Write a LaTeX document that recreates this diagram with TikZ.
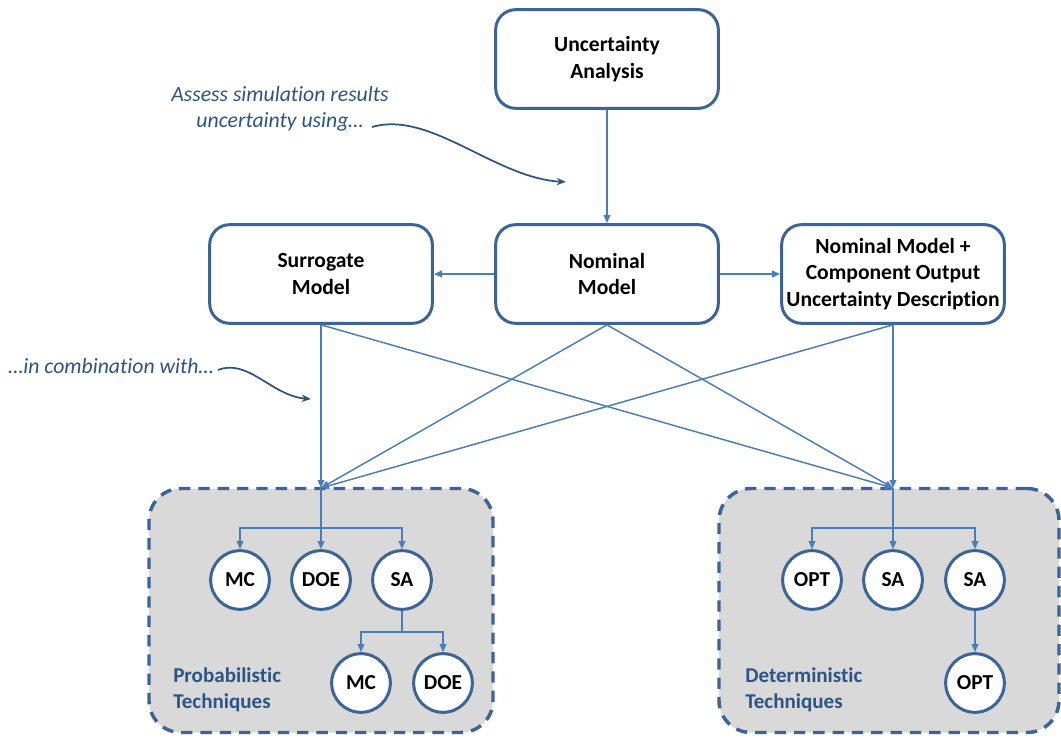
\documentclass[tikz,border=0pt]{standalone}
\usepackage{fontspec}
\setmainfont{Carlito}[Ligatures=NoCommon]
\usetikzlibrary{arrows.meta}
\definecolor{bordc}{HTML}{3C6496}
\definecolor{linec}{HTML}{4A7EBB}
\definecolor{grayf}{HTML}{D9D9D9}
\definecolor{textb}{HTML}{2C5585}
\tikzset{
  mbox/.style={draw=bordc, line width=2.25pt, rounded corners=15pt, fill=white,
    minimum width=167pt, minimum height=74pt, align=center, inner sep=2pt,
    font=\bfseries\fontsize{16.2}{19.8}\selectfont},
  tech/.style={circle, draw=bordc, line width=2.25pt, fill=white,
    minimum size=44pt, inner sep=0pt, font=\bfseries\fontsize{16}{18}\selectfont},
  conn/.style={draw=linec, line width=1.1pt, -{Triangle[length=6pt,width=5pt]}},
  plain/.style={draw=linec, line width=1.1pt},
  dashbox/.style={draw=bordc, fill=grayf, line width=2.6pt, rounded corners=24pt,
    dash pattern=on 8.5pt off 6pt, inner sep=0pt},
  lab/.style={text=textb, align=left, inner sep=0pt, anchor=west,
    font=\bfseries\fontsize{15.8}{19.5}\selectfont},
  ann/.style={text=textb, align=center, inner sep=0pt,
    font=\itshape\fontsize{16.3}{19.5}\selectfont},
  annc/.style={draw=textb, line width=1.3pt, -{Stealth[length=7pt,width=5.5pt]}}
}
\begin{document}
\begin{tikzpicture}[x=0.75pt,y=-0.75pt]
\useasboundingbox (0,0) rectangle (1061,738);
% containers
\node[dashbox, minimum width=258pt, minimum height=183pt] (pbox) at (321,610.5) {};
\node[dashbox, minimum width=255pt, minimum height=183pt] (dbox) at (889,610.5) {};
% main boxes
\node[mbox] (ua) at (607,59) {Uncertainty\\Analysis};
\node[mbox] (nm) at (607,274) {Nominal\\Model};
\node[mbox] (sm) at (321,274) {Surrogate\\Model};
\node[mbox] (nc) at (893,274) {Nominal Model +\\Component Output\\Uncertainty Description};
\coordinate (pin) at (321,488);
\coordinate (din) at (893,488);
\draw[conn] (ua.south) -- (nm.north);
\draw[conn] (nm.west) -- (sm.east);
\draw[conn] (nm.east) -- (nc.west);
\draw[conn] (sm.south) -- (pin);
\draw[conn] (sm.south) -- (din);
\draw[conn] (nm.south) -- (pin);
\draw[conn] (nm.south) -- (din);
\draw[conn] (nc.south) -- (pin);
\draw[conn] (nc.south) -- (din);
% probabilistic
\node[tech] (pmc) at (240,580) {MC};
\node[tech] (pdoe) at (321,580) {DOE};
\node[tech] (psa) at (402,580) {SA};
\node[tech] (pmc2) at (361,683) {MC};
\node[tech] (pdoe2) at (443,683) {DOE};
\coordinate (pj) at (321,528);
\coordinate (sj) at (402,632);
\draw[conn] (pin) -- (pdoe.north);
\draw[conn] (pj) -| (pmc.north);
\draw[conn] (pj) -| (psa.north);
\draw[plain] (psa.south) -- (sj);
\draw[conn] (sj) -| (pmc2.north);
\draw[conn] (sj) -| (pdoe2.north);
\node[lab] (plab) at (173,690) {Probabilistic\\Techniques};
% deterministic
\node[tech] (dopt) at (812,580) {OPT};
\node[tech] (dsa) at (893,580) {SA};
\node[tech] (dsa2) at (975,580) {SA};
\node[tech] (dopt2) at (975,683) {OPT};
\coordinate (dj) at (893,528);
\draw[conn] (din) -- (dsa.north);
\draw[conn] (dj) -| (dopt.north);
\draw[conn] (dj) -| (dsa2.north);
\draw[conn] (dsa2.south) -- (dopt2.north);
\node[lab] (dlab) at (745,690) {Deterministic\\Techniques};
% annotations
\node[ann] (a1) at (280,109) {Assess simulation results\\uncertainty using…};
\coordinate (a1s) at (372,127);
\coordinate (a1e) at (566,182);
\draw[annc] (a1s) .. controls (430,110) and (495,178) .. (a1e);
\node[ann] (a2) at (111,366) {…in combination with…};
\coordinate (a2s) at (218,370);
\coordinate (a2e) at (311,399);
\draw[annc] (a2s) .. controls (248,358) and (272,396) .. (a2e);
\end{tikzpicture}
\end{document}
